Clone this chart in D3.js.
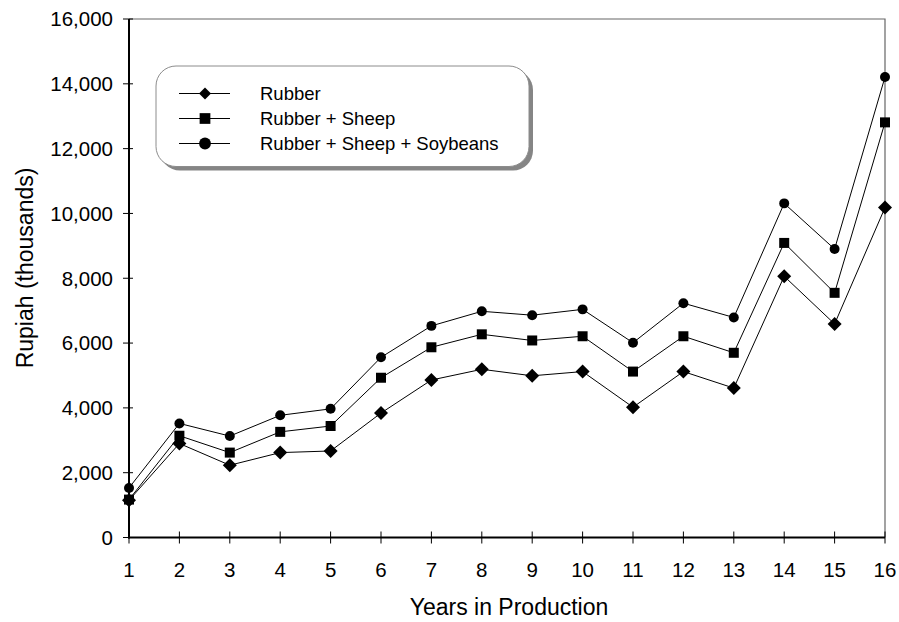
<!DOCTYPE html>
<html>
<head>
<meta charset="utf-8">
<script src="https://cdn.jsdelivr.net/npm/d3@7"></script>
<style>
  html, body { margin: 0; padding: 0; background: #fff; }
  svg { display: block; font-family: "Liberation Sans", Arial, sans-serif; }
</style>
</head>
<body>
<svg id="chart" width="899" height="622"></svg>
<script>
const years = [1, 2, 3, 4, 5, 6, 7, 8, 9, 10, 11, 12, 13, 14, 15, 16];
const rubber = [1150, 2900, 2230, 2620, 2670, 3840, 4860, 5190, 4990, 5120, 4020, 5120, 4610, 8060, 6590, 10180];
const rubberSheep = [1170, 3140, 2620, 3260, 3440, 4930, 5870, 6270, 6080, 6210, 5120, 6210, 5700, 9090, 7550, 12810];
const rubberSheepSoy = [1530, 3520, 3130, 3770, 3970, 5560, 6530, 6980, 6860, 7040, 6010, 7230, 6790, 10310, 8900, 14210];
const seriesNames = ["Rubber", "Rubber + Sheep", "Rubber + Sheep + Soybeans"];
const yTicks = [0, 2000, 4000, 6000, 8000, 10000, 12000, 14000, 16000];
const xTitle = "Years in Production";
const yTitle = "Rupiah (thousands)";

(function () {
const series = [
  { name: seriesNames[0], values: rubber, shape: d3.symbolSquare, rot: 45, size: 98, lsize: 72 },
  { name: seriesNames[1], values: rubberSheep, shape: d3.symbolSquare, rot: 0, size: 100, lsize: 115 },
  { name: seriesNames[2], values: rubberSheepSoy, shape: d3.symbolCircle, rot: 0, size: 78, lsize: 110 }
];

const svg = d3.select("#chart");
const pL = 129, pR = 885, pT = 19, pB = 537.5;
const x = d3.scaleLinear().domain([1, 16]).range([pL, pR]);
const y = d3.scaleLinear().domain([0, 16000]).range([pB, pT]);

// frame top & right
svg.append("path")
  .attr("d", `M${pL},${pT}H${pR}V${pB}`)
  .attr("fill", "none").attr("stroke", "#666").attr("stroke-width", 1.2);

// y axis
const yAxis = svg.append("g");
yAxis.append("line").attr("x1", pL).attr("x2", pL).attr("y1", pT).attr("y2", pB + 1)
  .attr("stroke", "#000").attr("stroke-width", 2);
yTicks.forEach(t => {
  yAxis.append("line").attr("x1", pL - 6).attr("x2", pL + 4)
    .attr("y1", y(t)).attr("y2", y(t)).attr("stroke", "#000").attr("stroke-width", 1);
  yAxis.append("text").attr("x", pL - 16).attr("y", y(t)).attr("dy", "0.36em")
    .attr("text-anchor", "end").attr("font-size", 20.5).attr("fill", "#000")
    .text(d3.format(",")(t));
});

// x axis
const xAxis = svg.append("g");
xAxis.append("line").attr("x1", pL - 1).attr("x2", pR).attr("y1", pB).attr("y2", pB)
  .attr("stroke", "#000").attr("stroke-width", 2);
years.forEach(t => {
  xAxis.append("line").attr("x1", x(t)).attr("x2", x(t))
    .attr("y1", pB - 6).attr("y2", pB + 6).attr("stroke", "#000").attr("stroke-width", 1);
  xAxis.append("text").attr("x", x(t)).attr("y", 577)
    .attr("text-anchor", "middle").attr("font-size", 20.5).attr("fill", "#000")
    .text(t);
});

// axis titles
svg.append("text").attr("x", 509).attr("y", 615).attr("text-anchor", "middle")
  .attr("font-size", 23).attr("fill", "#000").text(xTitle);
svg.append("text").attr("transform", "translate(33,268) rotate(-90)").attr("text-anchor", "middle")
  .attr("font-size", 23).attr("fill", "#000").text(yTitle);

// lines and markers
const line = d3.line().x((d, i) => x(years[i])).y(d => y(d));
series.slice().reverse().forEach(s => {
  svg.append("path").datum(s.values).attr("d", line)
    .attr("fill", "none").attr("stroke", "#000").attr("stroke-width", 1);
});
series.slice().reverse().forEach(s => {
  svg.append("g").selectAll("path").data(s.values).join("path")
    .attr("transform", (d, i) => `translate(${x(years[i])},${y(d)}) rotate(${s.rot})`)
    .attr("d", d3.symbol().type(s.shape).size(s.size))
    .attr("fill", "#000");
});

// legend
const lg = svg.append("g");
lg.append("rect").attr("x", 160).attr("y", 70).attr("width", 373).attr("height", 100.5)
  .attr("rx", 20).attr("fill", "#858585");
lg.append("rect").attr("x", 156).attr("y", 66).attr("width", 373).attr("height", 100.5)
  .attr("rx", 20).attr("fill", "#fff").attr("stroke", "#8c8c8c").attr("stroke-width", 1);
series.forEach((s, i) => {
  const cy = 93.5 + i * 25;
  lg.append("line").attr("x1", 179).attr("x2", 230).attr("y1", cy).attr("y2", cy)
    .attr("stroke", "#000").attr("stroke-width", 1.2);
  lg.append("path").attr("transform", `translate(205,${cy}) rotate(${s.rot})`)
    .attr("d", d3.symbol().type(s.shape).size(s.lsize)).attr("fill", "#000");
  lg.append("text").attr("x", 260).attr("y", cy).attr("dy", "0.36em")
    .attr("font-size", 18.5).attr("fill", "#000").text(s.name);
});
})();
</script>
</body>
</html>
